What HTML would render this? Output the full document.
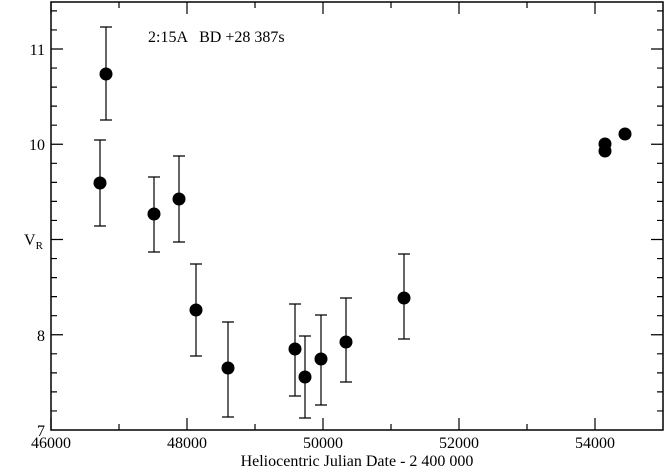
<!DOCTYPE html><html><head><style>body{margin:0;background:#fff}svg text{font-family:"Liberation Serif",serif;fill:#000}</style></head><body>
<svg width="665" height="468" xmlns="http://www.w3.org/2000/svg">
<rect x="51" y="2" width="612" height="428" stroke="#000" stroke-width="1.5" fill="none"/>
<path stroke="#000" stroke-width="1.2" fill="none" d="
M51 430v-12M51 2v12M119 430v-6M119 2v6M187 430v-12M187 2v12M255 430v-6M255 2v6M323 430v-12M323 2v12M391 430v-6M391 2v6M459 430v-12M459 2v12M527 430v-6M527 2v6M595 430v-12M595 2v12
M51 410.95h6M663 410.95h-6M51 391.9h6M663 391.9h-6M51 372.85h6M663 372.85h-6M51 353.8h6M663 353.8h-6
M51 334.75h12M663 334.75h-12
M51 315.7h6M663 315.7h-6M51 296.65h6M663 296.65h-6M51 277.6h6M663 277.6h-6M51 258.55h6M663 258.55h-6
M51 239.5h12M663 239.5h-12
M51 220.45h6M663 220.45h-6M51 201.4h6M663 201.4h-6M51 182.35h6M663 182.35h-6M51 163.3h6M663 163.3h-6
M51 144.25h12M663 144.25h-12
M51 125.2h6M663 125.2h-6M51 106.15h6M663 106.15h-6M51 87.1h6M663 87.1h-6M51 68.05h6M663 68.05h-6
M51 49h12M663 49h-12
M51 29.95h6M663 29.95h-6M51 10.9h6M663 10.9h-6"/>
<g font-size="16" text-anchor="end">
<text x="45" y="436">7</text><text x="45" y="341">8</text><text x="45" y="150">10</text><text x="45" y="55">11</text>
</g>
<g font-size="16" text-anchor="middle">
<text x="51" y="448">46000</text><text x="187" y="448">48000</text><text x="323" y="448">50000</text><text x="459" y="448">52000</text><text x="595" y="448">54000</text>
<text x="357" y="466">Heliocentric Julian Date - 2 400 000</text>
</g>
<text x="24" y="245" font-size="16">V<tspan font-size="11" dy="4">R</tspan></text>
<text x="148" y="42" font-size="16" xml:space="preserve">2:15A   BD +28 387s</text>
<path stroke="#000" stroke-width="1.2" fill="none" d="
M100 140V226M94 140h12M94 226h12
M106 27V120M100 27h12M100 120h12
M154 177V252M148 177h12M148 252h12
M179 156V242M173 156h12M173 242h12
M196 264V356M190 264h12M190 356h12
M228 322V417M222 322h12M222 417h12
M295 304V396M289 304h12M289 396h12
M305 336V418M299 336h12M299 418h12
M321 315V405M315 315h12M315 405h12
M346 298V382M340 298h12M340 382h12
M404 254V339M398 254h12M398 339h12"/>
<g fill="#000">
<circle cx="100" cy="183" r="6.5"/><circle cx="106" cy="74" r="6.5"/><circle cx="154" cy="214" r="6.5"/><circle cx="179" cy="199" r="6.5"/><circle cx="196" cy="310" r="6.5"/><circle cx="228" cy="368" r="6.5"/><circle cx="295" cy="349" r="6.5"/><circle cx="305" cy="377" r="6.5"/><circle cx="321" cy="359" r="6.5"/><circle cx="346" cy="342" r="6.5"/><circle cx="404" cy="298" r="6.5"/><circle cx="605" cy="144" r="6.5"/><circle cx="605" cy="151" r="6.5"/><circle cx="625" cy="134" r="6.5"/>
</g>
</svg></body></html>
